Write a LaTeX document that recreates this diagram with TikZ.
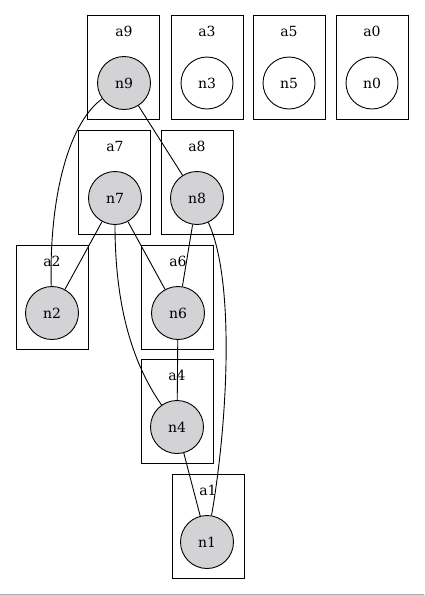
\documentclass[tikz,border=0pt]{standalone}
\usepackage{fontspec}
\setmainfont{DejaVu Serif}
\definecolor{nodegray}{HTML}{D3D3D6}
\begin{document}
\begin{tikzpicture}[x=1pt, y=-1pt,
  font=\fontsize{14}{16}\selectfont,
  every path/.style={line width=0.9pt},
  cluster/.style={draw, line width=0.9pt, minimum width=72pt, minimum height=104pt, inner sep=0pt},
  clabel/.style={inner sep=0pt, anchor=center},
  gnode/.style={circle, draw, fill=nodegray, minimum size=53pt, inner sep=0pt},
  wnode/.style={circle, draw, fill=white, minimum size=52pt, inner sep=0pt},
  edge/.style={draw, line width=0.9pt}]
  \useasboundingbox (0,0) rectangle (424,595);
  \fill[white] (0,0) rectangle (424,595);

  % clusters
  \node[cluster] (a9) at (123.5,67.5) {};
  \node[cluster] (a3) at (207,67.5) {};
  \node[cluster] (a5) at (289,67.5) {};
  \node[cluster] (a0) at (372,67.5) {};
  \node[cluster] (a7) at (114.5,182.5) {};
  \node[cluster] (a8) at (197,182.5) {};
  \node[cluster] (a2) at (52,297.5) {};
  \node[cluster] (a6) at (177.5,297.5) {};
  \node[cluster] (a4) at (177,411.5) {};
  \node[cluster] (a1) at (208,526) {};

  % cluster labels
  \node[clabel] (la9) at (124,31) {a9};
  \node[clabel] (la3) at (207,31) {a3};
  \node[clabel] (la5) at (289,31) {a5};
  \node[clabel] (la0) at (372,31) {a0};
  \node[clabel] (la7) at (115,146) {a7};
  \node[clabel] (la8) at (197,146) {a8};
  \node[clabel] (la2) at (52,261) {a2};
  \node[clabel] (la6) at (178,261) {a6};
  \node[clabel] (la4) at (177,375) {a4};
  \node[clabel] (la1) at (208,490) {a1};

  % nodes
  \node[gnode] (n9) at (124,83) {n9};
  \node[wnode] (n3) at (207,83) {n3};
  \node[wnode] (n5) at (289,83) {n5};
  \node[wnode] (n0) at (372,83) {n0};
  \node[gnode] (n7) at (115,198) {n7};
  \node[gnode] (n8) at (197,198) {n8};
  \node[gnode] (n2) at (52,313) {n2};
  \node[gnode] (n6) at (178,313) {n6};
  \node[gnode] (n4) at (177,427) {n4};
  \node[gnode] (n1) at (207,542) {n1};

  % edges
  \draw[edge] (n9) .. controls (66,125) and (49,205) .. (n2);
  \draw[edge] (n9) -- (n8);
  \draw[edge] (n7) -- (n2);
  \draw[edge] (n7) -- (n6);
  \draw[edge] (n7) .. controls (115,300) and (130,360) .. (n4);
  \draw[edge] (n8) -- (n6);
  \draw[edge] (n8) .. controls (235,280) and (228,420) .. (n1);
  \draw[edge] (n6) -- (n4);
  \draw[edge] (n4) -- (n1);

  % bottom rule
  \draw[gray!65, line width=1pt] (0,594) -- (424,594);
\end{tikzpicture}
\end{document}
